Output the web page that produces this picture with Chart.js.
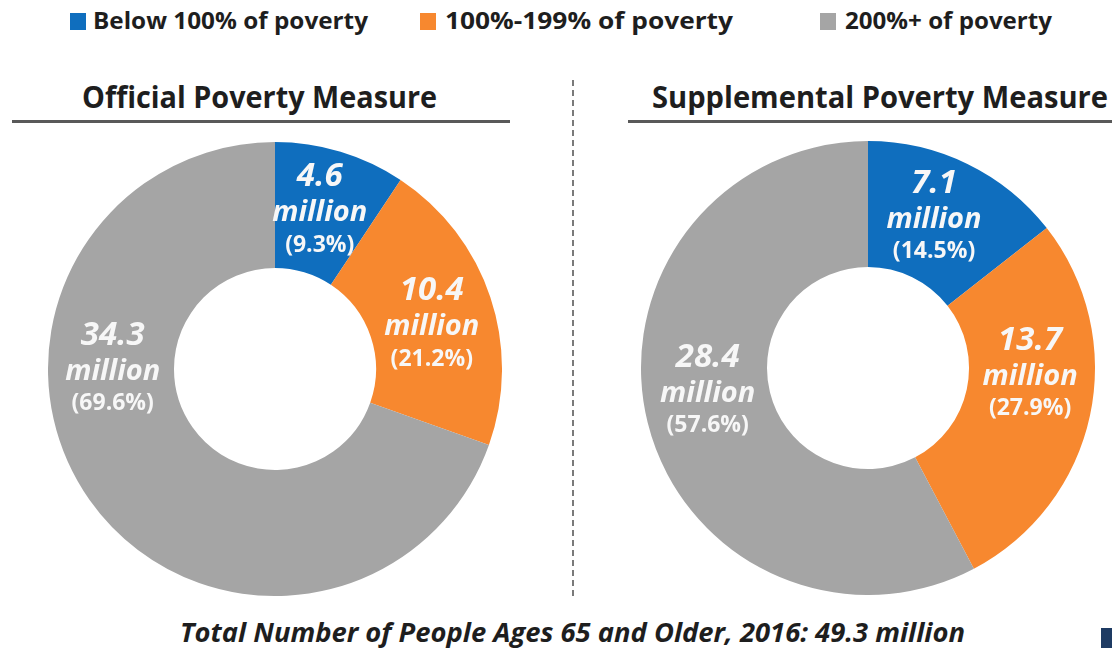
<!DOCTYPE html>
<html>
<head>
<meta charset="utf-8">
<script src="https://cdn.jsdelivr.net/npm/chart.js@4.4.1/dist/chart.umd.min.js"></script>
<style>
  html, body { margin:0; padding:0; background:#fff; }
  #stage { position:relative; width:1112px; height:648px; overflow:hidden; background:#fff; font-family:"Open Sans","Liberation Sans",sans-serif; }
  .txt { position:absolute; white-space:nowrap; color:#1e1e1e; font-weight:700; transform-origin:left center; }
  .sq { position:absolute; width:16px; height:17px; }
  .rule { position:absolute; height:3px; background:#595959; }
  #divider { position:absolute; left:572px; top:80px; height:516px; width:0; border-left:2px dashed #7a7a7a; }
  canvas { position:absolute; }
  #mark { position:absolute; left:1101px; top:628px; width:11px; height:20px; background:#1e3b63; }
</style>
</head>
<body>
<div id="stage">
  <div id="divider"></div>
  <div class="rule" style="left:12px; top:120px; width:498px;"></div>
  <div class="rule" style="left:628px; top:120px; width:484px;"></div>
  <canvas id="opm" width="454" height="454" style="left:48px; top:142px;"></canvas>
  <canvas id="spm" width="454" height="454" style="left:641px; top:141px;"></canvas>
  <div id="mark"></div>
</div>
<script>
// ---- data ----
const categories = ['Below 100% of poverty', '100%-199% of poverty', '200%+ of poverty'];
const sliceColors = ['#0F6EBE', '#F7882F', '#A5A5A5'];
const opmValues = [4.6, 10.4, 34.3];
const opmPercents = [9.3, 21.2, 69.6];
const spmValues = [7.1, 13.7, 28.4];
const spmPercents = [14.5, 27.9, 57.6];
const chartTitles = ['Official Poverty Measure', 'Supplemental Poverty Measure'];
const unitLabel = 'million';
const footerText = 'Total Number of People Ages 65 and Older, 2016: 49.3 million';

// ---- text helpers ----
const stage = document.getElementById('stage');
const fitItems = [];
function addText(text, left, centerY, width, size, style) {
  const d = document.createElement('div');
  d.className = 'txt';
  d.textContent = text;
  d.style.left = left + 'px';
  d.style.fontSize = size + 'px';
  d.style.lineHeight = size * 1.3 + 'px';
  d.style.top = (centerY - size * 0.65) + 'px';
  if (style) Object.assign(d.style, style);
  stage.appendChild(d);
  fitItems.push({ d, width });
  return d;
}
function fitAll() {
  fitItems.forEach(({ d, width }) => {
    d.style.transform = 'none';
    const w = d.getBoundingClientRect().width;
    if (w > 0) d.style.transform = 'scaleX(' + (width / w) + ')';
  });
}

// legend
const legendLayout = [
  { sq: 70, tx: 93, w: 275 },
  { sq: 420, tx: 445, w: 288 },
  { sq: 820, tx: 845, w: 207 }
];
categories.forEach((c, i) => {
  const s = document.createElement('div');
  s.className = 'sq';
  s.style.left = legendLayout[i].sq + 'px';
  s.style.top = '13px';
  s.style.background = sliceColors[i];
  stage.appendChild(s);
  addText(c, legendLayout[i].tx, 21, legendLayout[i].w, 23);
});

// titles
addText(chartTitles[0], 82, 96, 355, 30);
addText(chartTitles[1], 652, 96, 456, 30);
// footer
addText(footerText, 180, 632, 785, 27, { fontStyle: 'italic' });

// ---- slice label plugin ----
const sliceLabels = {
  id: 'sliceLabels',
  afterDatasetsDraw(chart, args, opts) {
    const meta = chart.getDatasetMeta(0);
    const ctx = chart.ctx;
    const ds = chart.data.datasets[0];
    ctx.save();
    ctx.fillStyle = '#F7F7F7';
    ctx.textAlign = 'center';
    ctx.textBaseline = 'middle';
    meta.data.forEach((arc, i) => {
      const p = arc.getProps(['x', 'y', 'outerRadius'], true);
      const a = (opts.angles[i] - 90) * Math.PI / 180;
      const r = p.outerRadius * opts.radius;
      const cx = p.x + r * Math.cos(a);
      const cy = p.y + r * Math.sin(a);
      ctx.font = 'italic 700 33px "Open Sans", "Liberation Sans", sans-serif';
      ctx.fillText(ds.data[i].toFixed(1), cx, cy - 36);
      ctx.font = 'italic 700 29px "Open Sans", "Liberation Sans", sans-serif';
      ctx.fillText(unitLabel, cx, cy);
      ctx.font = '700 23px "Open Sans", "Liberation Sans", sans-serif';
      ctx.fillText('(' + ds.percents[i].toFixed(1) + '%)', cx, cy + 32);
    });
    ctx.restore();
  }
};

function makeChart(id, values, percents, angles) {
  return new Chart(document.getElementById(id), {
    type: 'doughnut',
    data: {
      labels: categories,
      datasets: [{
        data: values,
        percents: percents,
        backgroundColor: sliceColors,
        borderWidth: 0,
        hoverOffset: 0
      }]
    },
    options: {
      responsive: false,
      animation: false,
      cutout: '44.5%',
      layout: { padding: 0 },
      events: [],
      plugins: {
        legend: { display: false },
        tooltip: { enabled: false },
        title: { display: false },
        sliceLabels: { angles: angles, radius: 0.715 }
      }
    },
    plugins: [sliceLabels]
  });
}

makeChart('opm', opmValues, opmPercents, [16, 75, 269]);
makeChart('spm', spmValues, spmPercents, [24, 93, 261]);

fitAll();
if (document.fonts && document.fonts.ready) document.fonts.ready.then(fitAll);
</script>
</body>
</html>
